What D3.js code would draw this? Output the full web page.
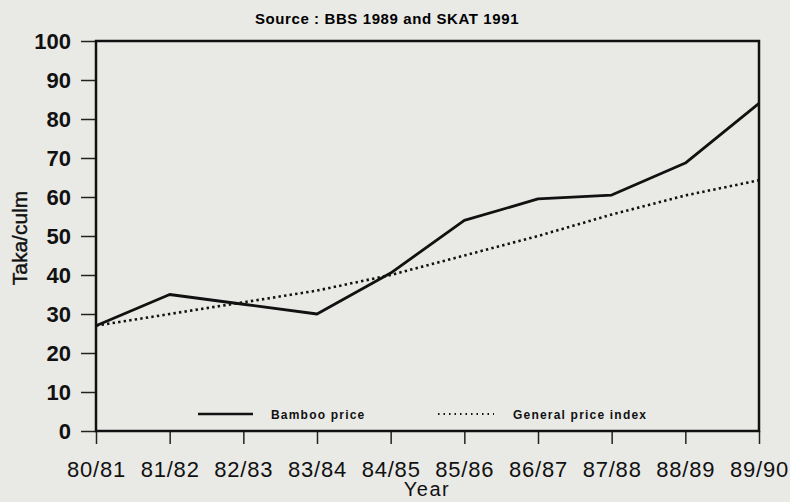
<!DOCTYPE html>
<html>
<head>
<meta charset="utf-8">
<script src="https://cdn.jsdelivr.net/npm/d3@7"></script>
<style>
  body { margin: 0; background: #e9e9e6; }
  svg { display: block; font-family: "Liberation Sans", Arial, sans-serif; }
</style>
</head>
<body>
<div id="chart"></div>
<script>
var years = ["80/81", "81/82", "82/83", "83/84", "84/85", "85/86", "86/87", "87/88", "88/89", "89/90"]
var bambooPrice = [27, 35, 32.5, 30, 40.5, 54, 59.5, 60.5, 68.7, 84]
var generalIndex = [27, 30, 33, 36, 40, 45, 50, 55.5, 60.4, 64.3]
var yTicks = [0, 10, 20, 30, 40, 50, 60, 70, 80, 90, 100]
var seriesNames = ["Bamboo price", "General price index"]

var w = 790,
    h = 502,
    plotLeft = 96, plotRight = 759, plotTop = 41, plotBottom = 431;

var svg = d3.select("#chart").append("svg")
    .attr("width", w)
    .attr("height", h)

var x = d3.scalePoint()
    .domain(years)
    .range([plotLeft, plotRight])

var y = d3.scaleLinear()
    .domain([0, 100])
    .range([plotBottom, plotTop])

// title
svg.append("text")
    .attr("x", 387)
    .attr("y", 24)
    .attr("text-anchor", "middle")
    .style("font-size", "15px")
    .style("font-weight", "bold")
    .style("letter-spacing", "0.6px")
    .text("Source : BBS 1989 and SKAT 1991")

// y axis
var yAxis = svg.append("g")
    .attr("transform", "translate(" + plotLeft + ",0)")
    .call(d3.axisLeft(y).tickValues(yTicks).tickSize(15).tickPadding(10))
yAxis.select(".domain").remove()
yAxis.selectAll("line").attr("stroke", "#222").attr("stroke-width", 1.5)
yAxis.selectAll("text")
    .attr("fill", "#111")
    .style("font-size", "22px")
    .style("font-weight", "bold")
    .style("font-family", "'Liberation Sans', Arial, sans-serif")

// x axis
var xAxis = svg.append("g")
    .attr("transform", "translate(0," + plotBottom + ")")
    .call(d3.axisBottom(x).tickSize(13).tickPadding(17))
xAxis.select(".domain").remove()
xAxis.selectAll("line").attr("stroke", "#222").attr("stroke-width", 1.5)
xAxis.selectAll("text")
    .attr("fill", "#111")
    .style("font-size", "22px")
    .style("letter-spacing", "0.8px")
    .style("font-family", "'Liberation Sans', Arial, sans-serif")

// plot frame
svg.append("rect")
    .attr("x", plotLeft)
    .attr("y", plotTop)
    .attr("width", plotRight - plotLeft)
    .attr("height", plotBottom - plotTop)
    .attr("fill", "none")
    .attr("stroke", "#111")
    .attr("stroke-width", 2.5)

// axis titles
svg.append("text")
    .attr("transform", "translate(27,238) rotate(-90)")
    .attr("text-anchor", "middle")
    .style("font-size", "21px")
    .style("stroke", "#111")
    .style("stroke-width", "0.4px")
    .attr("fill", "#111")
    .text("Taka/culm")

svg.append("text")
    .attr("x", 427)
    .attr("y", 496)
    .attr("text-anchor", "middle")
    .style("font-size", "20px")
    .style("letter-spacing", "1.5px")
    .attr("fill", "#111")
    .text("Year")

// lines
var line = d3.line()
    .x(function(d, i) { return x(years[i]); })
    .y(function(d) { return y(d); })

svg.append("path")
    .datum(bambooPrice)
    .attr("d", line)
    .attr("fill", "none")
    .attr("stroke", "#111")
    .attr("stroke-width", 2.8)
    .attr("stroke-linejoin", "round")

svg.append("path")
    .datum(generalIndex)
    .attr("d", line)
    .attr("fill", "none")
    .attr("stroke", "#111")
    .attr("stroke-width", 2.6)
    .attr("stroke-dasharray", "2.4,3.2")

// legend
var legend = [
    {name: seriesNames[0], x1: 198, x2: 253, tx: 271, dash: null},
    {name: seriesNames[1], x1: 438, x2: 494, tx: 513, dash: "1.5,4"}
]

var lg = svg.selectAll(".legend")
    .data(legend)
    .enter().append("g")
    .attr("class", "legend")

lg.append("line")
    .attr("x1", function(d) { return d.x1; })
    .attr("x2", function(d) { return d.x2; })
    .attr("y1", 414)
    .attr("y2", 414)
    .attr("stroke", "#111")
    .attr("stroke-width", function(d) { return d.dash ? 1.8 : 2.5; })
    .attr("stroke-dasharray", function(d) { return d.dash; })

lg.append("text")
    .attr("x", function(d) { return d.tx; })
    .attr("y", 418.5)
    .style("font-size", "12px")
    .style("font-weight", "bold")
    .style("letter-spacing", "1.2px")
    .attr("fill", "#111")
    .text(function(d) { return d.name; })
</script>
</body>
</html>
